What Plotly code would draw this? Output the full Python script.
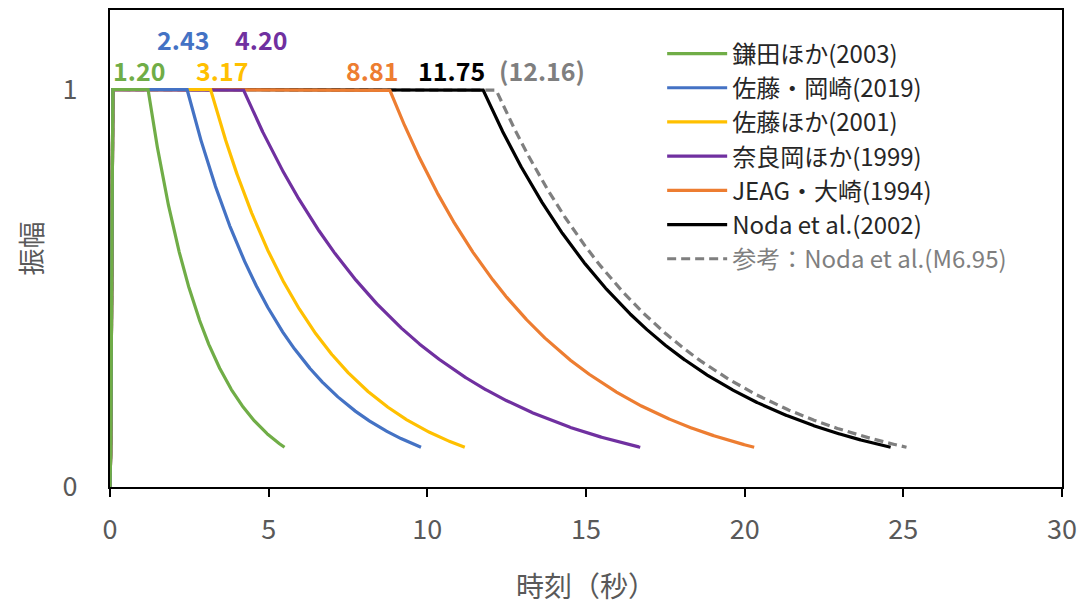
import numpy as np
import plotly.graph_objects as go

# Envelope parameters per model: rise end tb, plateau end tc, end of decay td (amplitude 0.1)
names = ["鎌田ほか(2003)", "佐藤・岡崎(2019)", "佐藤ほか(2001)", "奈良岡ほか(1999)",
         "JEAG・大崎(1994)", "Noda et al.(2002)", "参考：Noda et al.(M6.95)"]
tb = [0.07, 0.07, 0.07, 0.07, 0.07, 0.07, 0.07]
tc = [1.20, 2.43, 3.17, 4.20, 8.81, 11.75, 12.16]
td = [5.50, 9.80, 11.18, 16.71, 20.30, 24.60, 25.10]
end_amp = 0.1
label_text = ["1.20", "2.43", "3.17", "4.20", "8.81", "11.75", "(12.16)"]

colors = ["#70AD47", "#4472C4", "#FFC000", "#7030A0", "#ED7D31", "#000000", "#7F7F7F"]
dashes = ["solid"] * 6 + ["9px,5px"]
# label placement (x in seconds, row 0 = lower, 1 = upper)
label_x = [0.91, 2.30, 3.52, 4.77, 8.25, 10.77, 13.61]
label_row = [0, 1, 0, 1, 0, 0, 0]

fig = go.Figure()
dt = 0.01
# the first model is drawn last so it sits on top of the shared plateau
for i in reversed(range(len(names))):
    t = np.arange(0, td[i] + dt / 2, dt)
    a = np.log(1.0 / end_amp) / (td[i] - tc[i])
    y = np.where(t < tb[i], (t / tb[i]) ** 2,
                 np.where(t <= tc[i], 1.0, np.exp(-a * (t - tc[i]))))
    legend_name = names[i] if i < 6 else f"<span style='color:#7F7F7F'>{names[i]}</span>"
    fig.add_trace(go.Scatter(
        x=t, y=y, mode="lines", name=legend_name,
        line=dict(color=colors[i], width=3.2, dash=dashes[i]),
    ))

for i, txt in enumerate(label_text):
    fig.add_annotation(
        x=label_x[i], y=1.0, xref="x", yref="y",
        yshift=20 if label_row[i] == 0 else 51,
        text=f"<b>{txt}</b>", showarrow=False,
        font=dict(size=25, color=colors[i], family="Noto Sans CJK JP"),
    )

fig.update_layout(
    width=1085, height=606,
    margin=dict(l=110, r=20, t=8, b=114),
    paper_bgcolor="white", plot_bgcolor="white",
    font=dict(family="Noto Sans CJK JP", color="#595959"),
    showlegend=True,
    legend=dict(
        x=0.58, y=0.955, xanchor="left", yanchor="top",
        traceorder="reversed",
        bgcolor="rgba(0,0,0,0)", itemwidth=60, tracegroupgap=0,
        font=dict(size=24, color="#262626", family="Noto Sans CJK JP"),
    ),
    xaxis=dict(
        range=[0, 30], tickvals=[0, 5, 10, 15, 20, 25, 30],
        showline=True, linecolor="black", linewidth=2, mirror=True,
        ticks="outside", ticklen=8, tickcolor="black", tickwidth=1.5,
        ticklabelstandoff=10,
        showgrid=False, zeroline=False,
        tickfont=dict(size=27, color="#595959"),
        title=dict(text="時刻（秒）", font=dict(size=28, color="#595959"), standoff=31),
    ),
    yaxis=dict(
        range=[0, 1.2], tickvals=[0, 1],
        showline=True, linecolor="black", linewidth=2, mirror=True,
        ticks="", ticklabelstandoff=25,
        showgrid=False, zeroline=False,
        tickfont=dict(size=27, color="#595959"),
        title=dict(text="振幅", font=dict(size=27, color="#595959"), standoff=12),
    ),
)

fig.write_html("out.html")
